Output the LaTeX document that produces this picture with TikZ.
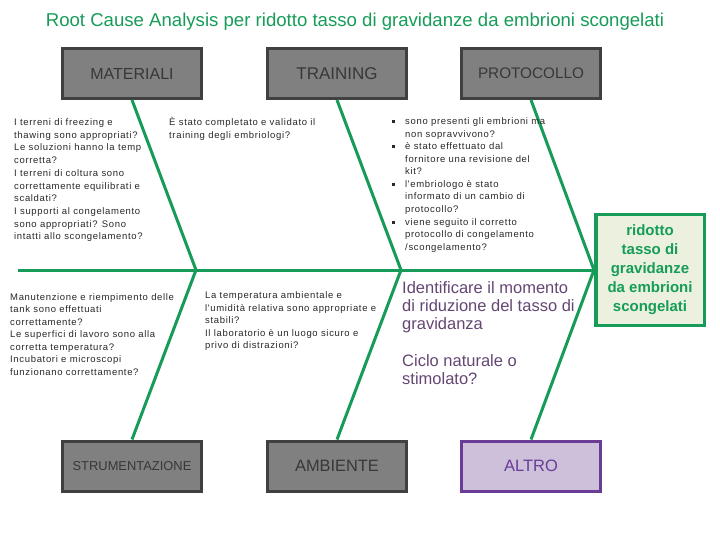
\documentclass[tikz,border=0pt]{standalone}
\usepackage{fontspec}
\setmainfont{Liberation Sans}
\newfontfamily\notefont[LetterSpace=7]{Liberation Sans}
\definecolor{fishgreen}{RGB}{22,156,88}
\definecolor{boxfill}{RGB}{128,128,128}
\definecolor{boxborder}{RGB}{64,64,64}
\definecolor{boxtext}{RGB}{56,56,56}
\definecolor{notetext}{RGB}{40,40,40}
\definecolor{efffill}{RGB}{235,241,222}
\definecolor{altfill}{RGB}{204,192,218}
\definecolor{altborder}{RGB}{106,60,150}
\definecolor{alttext}{RGB}{100,70,115}
\begin{document}
\begin{tikzpicture}[x=1pt,y=-1pt,
  bone/.style={draw=fishgreen, line width=3pt},
  catbox/.style={draw=boxborder, fill=boxfill, line width=3pt, minimum width=139pt, minimum height=50pt, text=boxtext, inner sep=0pt, font=\fontsize{16}{18}\selectfont},
  altbox/.style={catbox, draw=altborder, fill=altfill, text=altborder},
  note/.style={anchor=north west, align=left, inner sep=0pt, font=\notefont\fontsize{9.5}{12.6}\selectfont, text=notetext},
  bul/.style={fill=notetext, minimum size=3pt, inner sep=0pt},
  titlestyle/.style={text=fishgreen, inner sep=0pt, font=\fontsize{18.6}{22}\selectfont},
  effbox/.style={draw=fishgreen, fill=efffill, line width=3.5pt, minimum width=108.5pt, minimum height=110.5pt, inner sep=0pt, align=center, text=fishgreen, font=\bfseries\fontsize{15}{19}\selectfont},
  alttxt/.style={anchor=north west, align=left, inner sep=0pt, text=alttext, font=\fontsize{16.5}{18.3}\selectfont}
]
\useasboundingbox (0,0) rectangle (720,540);

\node[titlestyle] (title) at (355,22) {Root Cause Analysis per ridotto tasso di gravidanze da embrioni scongelati};

% category boxes
\node[catbox] (mat) at (132,73.5) {MATERIALI};
\node[catbox, font=\fontsize{17}{19}\selectfont] (tra) at (337,73.5) {TRAINING};
\node[catbox, font=\fontsize{15.3}{17}\selectfont] (pro) at (531,73.5) {PROTOCOLLO};
\node[catbox, font=\fontsize{12.9}{14}\selectfont] (str) at (132,466) {STRUMENTAZIONE};
\node[catbox, font=\fontsize{16.4}{18}\selectfont] (amb) at (337,466) {AMBIENTE};
\node[altbox, font=\fontsize{16.5}{18}\selectfont] (alt) at (531,466) {ALTRO};

% effect box
\node[effbox] (eff) at (650,270) {ridotto\\tasso di\\gravidanze\\da embrioni\\scongelati};

% spine and bones
\coordinate (tail) at (18,270);
\coordinate (j1) at (196,270);
\coordinate (j2) at (401,270);
\draw[bone] (tail) -- (eff.west);
\draw[bone] (mat.south) -- (j1) -- (str.north);
\draw[bone] (tra.south) -- (j2) -- (amb.north);
\draw[bone] (pro.south) -- (eff.west) -- (alt.north);

% notes
\node[note, font=\notefont\fontsize{9.5}{12.7}\selectfont] (nmat) at (14,118.5) {I terreni di freezing e\\thawing sono appropriati?\\Le soluzioni hanno la temp\\corretta?\\I terreni di coltura sono\\correttamente equilibrati e\\scaldati?\\I supporti al congelamento\\sono appropriati? Sono\\intatti allo scongelamento?};

\node[note] (ntra) at (169,117) {È stato completato e validato il\\training degli embriologi?};

\node[note, font=\notefont\fontsize{9.5}{12.56}\selectfont] (npro) at (405,117.5) {sono presenti gli embrioni ma\\non sopravvivono?\\è stato effettuato dal\\fornitore una revisione del\\kit?\\l'embriologo è stato\\informato di un cambio di\\protocollo?\\viene seguito il corretto\\protocollo di congelamento\\/scongelamento?};
\node[bul] (b1) at (393,121.7) {};
\node[bul] (b2) at (393,146.8) {};
\node[bul] (b3) at (393,184.5) {};
\node[bul] (b4) at (393,222.2) {};

\node[note, font=\notefont\fontsize{9.5}{12.5}\selectfont] (nstr) at (10,293) {Manutenzione e riempimento delle\\tank sono effettuati\\correttamente?\\Le superfici di lavoro sono alla\\corretta temperatura?\\Incubatori e microscopi\\funzionano correttamente?};

\node[note] (namb) at (205,291.5) {La temperatura ambientale e\\l'umidità relativa sono appropriate e\\stabili?\\Il laboratorio è un luogo sicuro e\\privo di distrazioni?};

\node[alttxt] (nalt) at (402,281) {Identificare il momento\\di riduzione del tasso di\\gravidanza\\[18pt]Ciclo naturale o\\stimolato?};
\end{tikzpicture}
\end{document}
